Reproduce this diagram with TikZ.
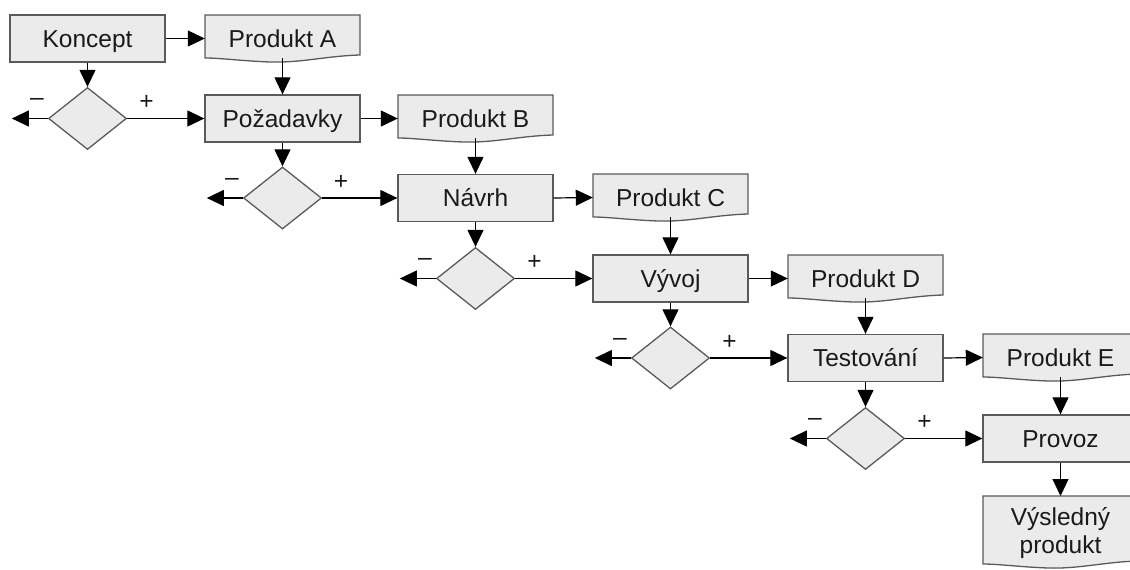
\documentclass[tikz,border=0pt]{standalone}
\usepackage{fontspec}
\setmainfont{Liberation Sans}
\usetikzlibrary{arrows.meta,shapes.geometric,calc}
\definecolor{boxfill}{HTML}{EBEBEB}
\definecolor{boxline}{HTML}{5A5A5A}
\definecolor{txt}{HTML}{1A1A1A}
\tikzset{
  procbox/.style={draw=boxline, line width=1.3pt, fill=boxfill, minimum width=155pt, minimum height=47pt, inner sep=0pt, text height=22pt, text depth=5pt, text=txt, font=\fontsize{24.5}{27}\selectfont},
  doctext/.style={draw=none, minimum width=155pt, minimum height=47pt, inner sep=0pt, text=txt, font=\fontsize{24.5}{27}\selectfont, align=center},
  docline/.style={doctext, text height=22pt, text depth=5pt},
  docfill/.style={draw=boxline, line width=1.3pt, fill=boxfill},
  decision/.style={diamond, draw=boxline, line width=1.3pt, fill=boxfill, minimum width=78pt, minimum height=62pt, inner sep=0pt, aspect=1.26},
  conn/.style={draw=black, line width=1.2pt, -{Triangle[length=17pt,width=16pt]}},
  sign/.style={text=txt, font=\fontsize{24.5}{27}\selectfont, inner sep=0pt},
}
% \docshape{x}{y}{w}{h}: document shape with wavy bottom, top-left at (x,y), y downward
\newcommand\docshape[4]{%
  \path[docfill] (#1,#2) -- ({#1+#3},#2) -- ({#1+#3},{#2+#4-7})
    .. controls ({#1+0.78*#3},{#2+#4-6}) and ({#1+0.62*#3},{#2+#4+1}) .. ({#1+0.42*#3},{#2+#4})
    .. controls ({#1+0.24*#3},{#2+#4-1}) and ({#1+0.1*#3},{#2+#4-4}) .. (#1,{#2+#4-4}) -- cycle;}
\begin{document}
\begin{tikzpicture}[x=1pt,y=-1pt]
\useasboundingbox (0,0) rectangle (1130,570);
% process boxes
\node[procbox] (koncept) at (87.5,38.5) {Koncept};
\node[procbox] (pozad) at (282.5,118.5) {Požadavky};
\node[procbox] (navrh) at (475.5,198) {Návrh};
\node[procbox] (vyvoj) at (670.5,278.5) {Vývoj};
\node[procbox] (test) at (865.5,358) {Testování};
\node[procbox] (provoz) at (1060.5,438.5) {Provoz};
% document shapes
\docshape{205}{15}{155}{47}
\docshape{398}{95}{155}{47}
\docshape{593}{174}{155}{47}
\docshape{788}{255}{155}{47}
\docshape{983}{334}{155}{47}
\docshape{983}{496}{155}{72}
\node[docline] (pa) at (282.5,38.5) {Produkt A};
\node[docline] (pb) at (475.5,118.5) {Produkt B};
\node[docline] (pc) at (670.5,197.5) {Produkt C};
\node[docline] (pd) at (865.5,278.5) {Produkt D};
\node[docline] (pe) at (1060.5,357.5) {Produkt E};
\node[doctext, minimum height=70pt, font=\fontsize{24.5}{27.5}\selectfont] (pv) at (1060.5,533) {Výsledný\\produkt};
\coordinate (pvtop) at (1060.5,496);
% decisions
\node[decision] (d1) at (87.5,118.5) {};
\node[decision] (d2) at (282.5,198) {};
\node[decision] (d3) at (475.5,278.5) {};
\node[decision] (d4) at (670.5,358) {};
\node[decision] (d5) at (865.5,438.5) {};
% free ends of the "minus" branches
\coordinate (m1) at ($(d1.west)+(-36,0)$);
\coordinate (m2) at ($(d2.west)+(-36,0)$);
\coordinate (m3) at ($(d3.west)+(-36,0)$);
\coordinate (m4) at ($(d4.west)+(-36,0)$);
\coordinate (m5) at ($(d5.west)+(-36,0)$);
% connectors
\draw[conn] (koncept.east) -- (pa.west);
\draw[conn] (pozad.east) -- (pb.west);
\draw[conn] (navrh.east) -- (pc.west);
\draw[conn] (vyvoj.east) -- (pd.west);
\draw[conn] (test.east) -- (pe.west);
\draw[conn] (koncept.south) -- (d1.north);
\draw[conn] (pozad.south) -- (d2.north);
\draw[conn] (navrh.south) -- (d3.north);
\draw[conn] (vyvoj.south) -- (d4.north);
\draw[conn] (test.south) -- (d5.north);
\draw[conn] ([yshift=4pt]pa.south) -- (pozad.north);
\draw[conn] ([yshift=4pt]pb.south) -- (navrh.north);
\draw[conn] ([yshift=4pt]pc.south) -- (vyvoj.north);
\draw[conn] ([yshift=4pt]pd.south) -- (test.north);
\draw[conn] ([yshift=4pt]pe.south) -- (provoz.north);
\draw[conn] (provoz.south) -- (pvtop);
\draw[conn] (d1.east) -- node[sign, pos=0.25, above=8pt] {+} (pozad.west);
\draw[conn] (d2.east) -- node[sign, pos=0.25, above=8pt] {+} (navrh.west);
\draw[conn] (d3.east) -- node[sign, pos=0.25, above=8pt] {+} (vyvoj.west);
\draw[conn] (d4.east) -- node[sign, pos=0.25, above=8pt] {+} (test.west);
\draw[conn] (d5.east) -- node[sign, pos=0.25, above=8pt] {+} (provoz.west);
\draw[conn] (d1.west) -- node[sign, pos=0.3, above=12pt] {–} (m1);
\draw[conn] (d2.west) -- node[sign, pos=0.3, above=12pt] {–} (m2);
\draw[conn] (d3.west) -- node[sign, pos=0.3, above=12pt] {–} (m3);
\draw[conn] (d4.west) -- node[sign, pos=0.3, above=12pt] {–} (m4);
\draw[conn] (d5.west) -- node[sign, pos=0.3, above=12pt] {–} (m5);
\end{tikzpicture}
\end{document}
